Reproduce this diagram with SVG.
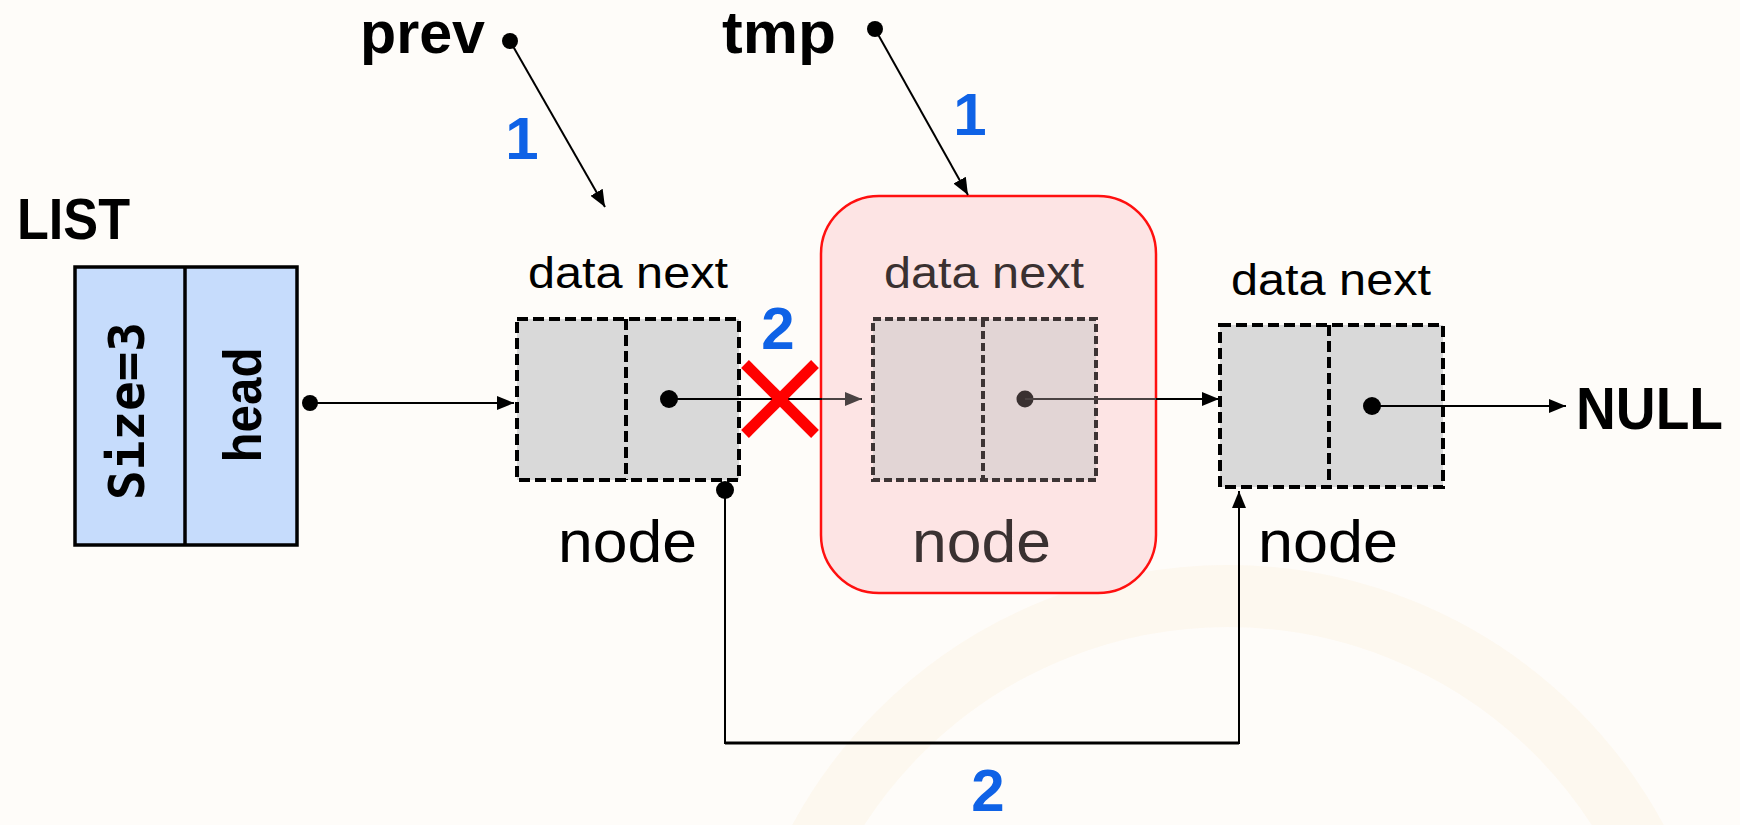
<svg xmlns="http://www.w3.org/2000/svg" width="1740" height="825" viewBox="0 0 1740 825">
<style>
.bg{fill:#fefcf9}
.lbl{font-family:"Liberation Sans",Arial,sans-serif;fill:#000}
.b{font-weight:bold}
.blue{fill:#0f62e6;font-family:"Liberation Sans",Arial,sans-serif;font-weight:bold;font-size:60px;text-anchor:middle}
.cell{fill:#d9d9d9;stroke:#000;stroke-width:4;stroke-dasharray:11 5}
.div{stroke:#000;stroke-width:4;stroke-dasharray:11 5;fill:none}
.fcell{fill:#e2d5d5;stroke:#3d3434;stroke-width:4;stroke-dasharray:8 4}
.fdiv{stroke:#3d3434;stroke-width:4;stroke-dasharray:8 4;fill:none}
.dn{font-size:44px}
.nd{font-size:60px}
.ln{stroke:#000;stroke-width:2;fill:none}
.gln{stroke:#4a4242;stroke-width:2;fill:none}
.dot{fill:#000}
</style>
<defs>
<marker id="arr" viewBox="0 0 17 14" refX="17" refY="7" markerWidth="17" markerHeight="14" orient="auto" markerUnits="userSpaceOnUse"><path d="M0,0 L17,7 L0,14 z" fill="#000"/></marker>
<marker id="garr" viewBox="0 0 17 14" refX="17" refY="7" markerWidth="17" markerHeight="14" orient="auto" markerUnits="userSpaceOnUse"><path d="M0,0 L17,7 L0,14 z" fill="#4a4242"/></marker>
</defs>
<rect class="bg" x="0" y="0" width="1740" height="825"/>
<circle cx="1228" cy="1060" r="464" fill="none" stroke="#fbeed8" stroke-width="62" opacity="0.3"/>

<g id="list">
<text class="lbl b" x="17" y="239" font-size="57" textLength="113" lengthAdjust="spacingAndGlyphs">LIST</text>
<rect x="75" y="267" width="222" height="278" fill="#c6dcfc" stroke="#000" stroke-width="3.5"/>
<line x1="185" y1="267" x2="185" y2="545" stroke="#000" stroke-width="3.5"/>
<text transform="translate(144,411) rotate(-90)" x="0" y="0" text-anchor="middle" font-family="'DejaVu Sans Mono','Liberation Mono',monospace" font-weight="bold" font-size="50" textLength="178" lengthAdjust="spacingAndGlyphs">Size=3</text>
<text transform="translate(261,405) rotate(-90)" x="0" y="0" text-anchor="middle" class="lbl b" font-size="53" textLength="115" lengthAdjust="spacingAndGlyphs">head</text>
</g>

<g id="prev">
<text class="lbl b" x="360" y="53" font-size="60" textLength="125" lengthAdjust="spacingAndGlyphs">prev</text>
</g>
<g id="tmp">
<text class="lbl b" x="722" y="53" font-size="60" textLength="114" lengthAdjust="spacingAndGlyphs">tmp</text>
</g>

<g id="node1">
<text class="lbl dn" x="528" y="288" textLength="200" lengthAdjust="spacingAndGlyphs">data next</text>
<rect class="cell" x="517" y="319" width="222" height="161"/>
<line class="div" x1="626" y1="319" x2="626" y2="480"/>
<text class="lbl nd" x="558" y="562" textLength="139" lengthAdjust="spacingAndGlyphs">node</text>
</g>

<g id="node2">
<rect x="821" y="196" width="335" height="397" rx="58" ry="58" fill="#fde4e4" stroke="#ff1010" stroke-width="2.5"/>
<text class="dn" x="884" y="288" fill="#3a3131" font-family="'Liberation Sans',Arial,sans-serif" textLength="200" lengthAdjust="spacingAndGlyphs">data next</text>
<rect class="fcell" x="873" y="319" width="223" height="161"/>
<line class="fdiv" x1="983" y1="319" x2="983" y2="480"/>
<text class="nd" x="912" y="562" fill="#3a3131" font-family="'Liberation Sans',Arial,sans-serif" textLength="139" lengthAdjust="spacingAndGlyphs">node</text>
</g>

<g id="node3">
<text class="lbl dn" x="1231" y="295" textLength="200" lengthAdjust="spacingAndGlyphs">data next</text>
<rect class="cell" x="1220" y="325" width="223" height="162"/>
<line class="div" x1="1329" y1="325" x2="1329" y2="487"/>
<text class="lbl nd" x="1258" y="562" textLength="140" lengthAdjust="spacingAndGlyphs">node</text>
</g>

<g id="null">
<text class="lbl b" x="1576" y="429" font-size="60" textLength="147" lengthAdjust="spacingAndGlyphs">NULL</text>
</g>

<g id="connectors">
<circle class="dot" cx="510" cy="41" r="8"/>
<line class="ln" x1="510" y1="41" x2="605" y2="207" marker-end="url(#arr)"/>
<circle class="dot" cx="875" cy="29" r="8"/>
<line class="ln" x1="875" y1="29" x2="968" y2="195" marker-end="url(#arr)"/>
<circle class="dot" cx="310" cy="403" r="8"/>
<line class="ln" x1="310" y1="403" x2="514" y2="403" marker-end="url(#arr)"/>
<circle class="dot" cx="669" cy="399" r="9"/>
<line class="ln" x1="669" y1="399" x2="822" y2="399"/>
<line class="gln" x1="822" y1="399" x2="862" y2="399" marker-end="url(#garr)"/>
<circle cx="1025" cy="399" r="8.5" fill="#3a3131"/>
<line class="gln" x1="1025" y1="399" x2="1156" y2="399"/>
<line class="ln" x1="1156" y1="399" x2="1219" y2="399" marker-end="url(#arr)"/>
<circle class="dot" cx="1372" cy="406" r="9"/>
<line class="ln" x1="1372" y1="406" x2="1566" y2="406" marker-end="url(#arr)"/>
<circle class="dot" cx="725" cy="490" r="9"/>
<path class="ln" d="M725,490 V743 H1239 V491" marker-end="url(#arr)"/>
<line x1="725" y1="743" x2="1239" y2="743" stroke="#000" stroke-width="3"/>
</g>

<g id="cut">
<line x1="745" y1="364" x2="815" y2="434" stroke="#ff0000" stroke-width="11"/>
<line x1="815" y1="364" x2="745" y2="434" stroke="#ff0000" stroke-width="11"/>
</g>

<g id="steps">
<text class="blue" x="522" y="159" font-size="61">1</text>
<text class="blue" x="970" y="135" font-size="61">1</text>
<text class="blue" x="778" y="349" font-size="59">2</text>
<text class="blue" x="988" y="811">2</text>
</g>
</svg>
